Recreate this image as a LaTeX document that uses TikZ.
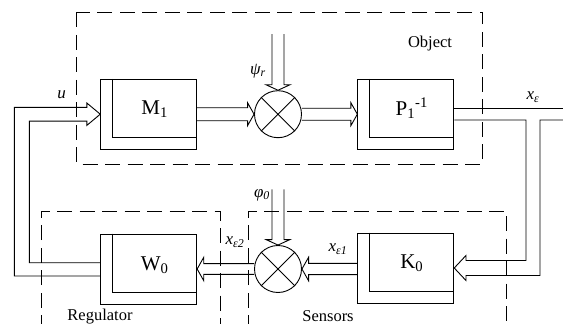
\documentclass[tikz,border=0pt]{standalone}
\usepackage{fontspec}
\setmainfont{Liberation Serif}
\usetikzlibrary{calc}
% fat (double-line) arrows: #1 from, #2 tip, #3 head length, #4 half shaft, #5 half head
\newcommand\fatR[5]{\draw let \p1=(#1),\p2=(#2) in (\x1,\y2+#4) -- (\x2-#3,\y2+#4) -- (\x2-#3,\y2+#5) -- (\p2) -- (\x2-#3,\y2-#5) -- (\x2-#3,\y2-#4) -- (\x1,\y2-#4);}
\newcommand\fatL[5]{\draw let \p1=(#1),\p2=(#2) in (\x1,\y2+#4) -- (\x2+#3,\y2+#4) -- (\x2+#3,\y2+#5) -- (\p2) -- (\x2+#3,\y2-#5) -- (\x2+#3,\y2-#4) -- (\x1,\y2-#4);}
\newcommand\fatD[5]{\draw let \p1=(#1),\p2=(#2) in (\x2-#4,\y1) -- (\x2-#4,\y2+#3) -- (\x2-#5,\y2+#3) -- (\p2) -- (\x2+#5,\y2+#3) -- (\x2+#4,\y2+#3) -- (\x2+#4,\y1);}
\begin{document}
\begin{tikzpicture}[x=1pt,y=-1pt,line width=0.9pt,
  blk/.style={draw,rectangle,minimum width=96pt,minimum height=70pt,inner sep=0pt},
  sumnode/.style={draw,circle,minimum size=47pt,inner sep=0pt},
  grp/.style={dash pattern=on 15pt off 7.5pt,line width=0.8pt},
  lbl/.style={font=\fontsize{16.5}{19}\selectfont,inner sep=0pt},
  sig/.style={font=\fontsize{17}{20}\selectfont\itshape,inner sep=0pt},
  bl/.style={font=\fontsize{21}{25}\selectfont,inner sep=0pt}]
\useasboundingbox (0,0) rectangle (563,324);
% group frames
\draw[grp] (76.7,12.3) rectangle (482.7,164);
\draw[grp] (41,330) -- (41,211) -- (220,211) -- (220,330);
\draw[grp] (248.3,330) -- (248.3,211) -- (506.7,211) -- (506.7,330);
% blocks
\node[blk] (M1) at (148.7,114.2) {};
\node[blk] (P1) at (405.8,114.2) {};
\node[blk] (W0) at (148.7,269) {};
\node[blk] (K0) at (405.8,268) {};
\foreach \b in {M1,P1,W0,K0}
  \draw ([xshift=12.5pt]\b.north west) |- ([yshift=12pt]\b.south east);
\node[bl] (tM1) at ([xshift=6pt,yshift=5pt]M1.center) {M\textsubscript{1}};
\node[bl] (tP1) at ([xshift=6pt,yshift=6pt]P1.center) {P\textsubscript{1}\textsuperscript{-1}};
\node[bl] (tW0) at ([xshift=6pt,yshift=4pt]W0.center) {W\textsubscript{0}};
\node[bl] (tK0) at ([xshift=6pt,yshift=5pt]K0.center) {K\textsubscript{0}};
% summing junctions
\node[sumnode] (S1) at (278,114.2) {};
\node[sumnode] (S2) at (278,269) {};
\draw (S1.45) -- (S1.225) (S1.135) -- (S1.315);
\draw (S2.45) -- (S2.225) (S2.135) -- (S2.315);
\coordinate (psiTop) at (278,34);
\coordinate (phiTop) at (278,189.3);
% arrows
\fatR{M1.east}{S1.west}{6.5pt}{6.5pt}{11.5pt}
\fatR{S1.east}{P1.west}{6.5pt}{6pt}{11.5pt}
\fatD{psiTop}{S1.north}{5.5pt}{6pt}{12pt}
\fatD{phiTop}{S2.north}{5.5pt}{6pt}{12pt}
\fatL{K0.west}{S2.east}{6.6pt}{5.6pt}{11.7pt}
\fatL{S2.west}{W0.east}{6.6pt}{5.4pt}{11.7pt}
% feedback W0 -> M1
\draw let \p1=(W0.west), \p2=(M1.west) in
  (\x1,\y1-7pt) -- (14.3pt,\y1-7pt) -- (14.3pt,\y2+6.9pt) -- (\x2-13.4pt,\y2+6.9pt)
  -- (\x2-13.4pt,\y2+11.2pt) -- (\p2) -- (\x2-13.4pt,\y2-11.2pt) -- (\x2-13.4pt,\y2-6.9pt)
  -- (29.3pt,\y2-6.9pt) -- (29.3pt,\y1+6.3pt) -- (\x1,\y1+6.3pt);
% output P1 -> K0
\draw let \p1=(P1.east) in (\x1,\y1+5.9pt) -- (566pt,\y1+5.9pt);
\draw let \p1=(P1.east), \p2=(K0.east) in
  (566pt,\y1-5.8pt) -- (540pt,\y1-5.8pt) -- (540pt,\y2-7.5pt) -- (\x2+11.7pt,\y2-7.5pt)
  -- (\x2+11.7pt,\y2-12.5pt) -- (\p2) -- (\x2+11.7pt,\y2+12.5pt) -- (\x2+11.7pt,\y2+7.5pt)
  -- (526pt,\y2+7.5pt) -- (526pt,\y1-5.8pt) -- (\x1,\y1-5.8pt);
% labels
\node[lbl] (obj) at (430,44) {Object};
\node[lbl] (reg) at (100,316.5) {Regulator};
\node[lbl] (sen) at (328,316.5) {Sensors};
\node[sig] (u) at (61.7,95) {u};
\node[sig] (xe) at (533,97) {x\textsubscript{ε}};
\node[sig] (psi) at (258,71) {ψ\textsubscript{r}};
\node[sig] (phi) at (262,195) {φ\textsubscript{0}};
\node[sig] (xe1) at (338,249) {x\textsubscript{ε1}};
\node[sig] (xe2) at (235,242) {x\textsubscript{ε2}};
\end{tikzpicture}
\end{document}
